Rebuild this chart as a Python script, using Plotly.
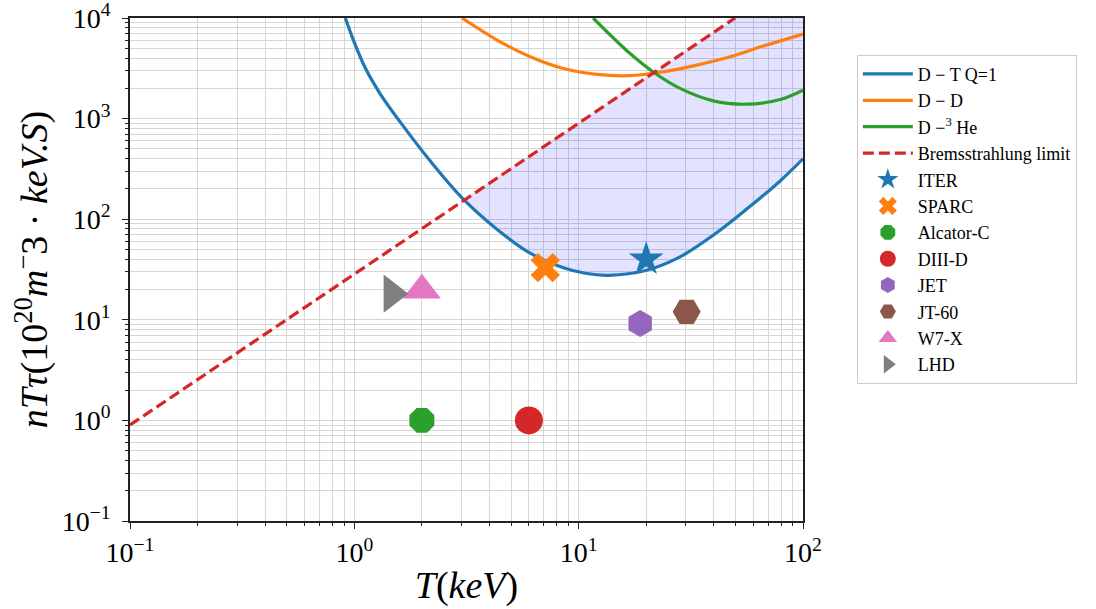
import plotly.graph_objects as go

# ---------------- data ----------------
DT_T = [0.912, 0.990, 1.119, 1.306, 1.603, 2.181, 3.069, 4.32, 6.08, 8.55, 10.69, 13.57,
        20.1, 28.3, 39.8, 56.1, 79.1, 100]
DT_Y = [10000, 6040, 3180, 1754, 922, 378, 157, 79.4, 45.9, 32.9, 29.0, 27.7,
        31.1, 42.2, 69.3, 126, 240, 398]

DD_T = [3.02, 4.33, 6.08, 8.55, 12.05, 16.9, 23.9, 33.6, 47.3, 66.6, 100]
DD_Y = [10000, 6040, 4120, 3150, 2750, 2670, 2920, 3400, 4120, 5260, 6930]

DHE_T = [11.6, 16.9, 21.9, 28.3, 39.8, 56.1, 79.1, 100]
DHE_Y = [10000, 4460, 2820, 1995, 1500, 1390, 1550, 1920]

BREMS_T = [0.1, 49.8]
BREMS_Y = [0.9, 10000]

# index of the D-T point where it meets the bremsstrahlung line
CROSS_IDX = 6

MACHINES = ["ITER", "SPARC", "Alcator-C", "DIII-D", "JET", "JT-60", "W7-X", "LHD"]
MACHINE_T = [20, 7.1, 2.0, 6.0, 18.8, 30.3, 2.0, 1.47]
MACHINE_Y = [40, 33, 1.0, 1.0, 9.2, 12, 19.7, 18.2]
MACHINE_SYMBOLS = ["star", "x", "octagon", "circle", "hexagon", "hexagon2", "triangle-up", "triangle-right"]
MACHINE_COLORS = ["#1f77b4", "#ff7f0e", "#2ca02c", "#d62728", "#9467bd", "#8c564b", "#e377c2", "#7f7f7f"]
MACHINE_SIZES = [26, 26, 27, 28, 27, 28, 33, 33]

X_RANGE = (0.1, 100)
Y_RANGE = (0.1, 10000)
X_TICKS = [0.1, 1, 10, 100]
X_TICK_LABELS = ["10<sup>−1</sup>", "10<sup>0</sup>", "10<sup>1</sup>", "10<sup>2</sup>"]
Y_TICKS = [0.1, 1, 10, 100, 1000, 10000]
Y_TICK_LABELS = ["10<sup>−1</sup>", "10<sup>0</sup>", "10<sup>1</sup>", "10<sup>2</sup>",
                 "10<sup>3</sup>", "10<sup>4</sup>"]

# ---------------- figure ----------------
FONT = "Liberation Serif"
SMOOTH = dict(shape="spline", smoothing=1.0)
fig = go.Figure()

# shaded region: above the D-T curve, below the bremsstrahlung limit (clipped at the top)
upper_x = [DT_T[CROSS_IDX], BREMS_T[-1], X_RANGE[1]]
upper_y = [DT_Y[CROSS_IDX], BREMS_Y[-1], Y_RANGE[1]]
fig.add_trace(go.Scatter(x=upper_x, y=upper_y, mode="lines", line=dict(width=0),
                         showlegend=False, hoverinfo="skip"))
fig.add_trace(go.Scatter(x=DT_T[CROSS_IDX:], y=DT_Y[CROSS_IDX:], mode="lines",
                         fill="tonexty", fillcolor="rgba(0,0,255,0.11)",
                         line=dict(width=0, **SMOOTH), showlegend=False, hoverinfo="skip"))

curves = [
    ("D − T Q=1", DT_T, DT_Y, "#1f77b4"),
    ("D − D", DD_T, DD_Y, "#ff7f0e"),
    ("D −<sup>3</sup> He", DHE_T, DHE_Y, "#2ca02c"),
]
for i, (name, xs, ys, col) in enumerate(curves):
    fig.add_trace(go.Scatter(x=xs, y=ys, mode="lines", name=name, legendgroup=f"g{i}",
                             line=dict(color=col, width=3.2, **SMOOTH)))

fig.add_trace(go.Scatter(x=BREMS_T, y=BREMS_Y, mode="lines", name="Bremsstrahlung limit",
                         legendgroup="g3",
                         line=dict(color="#d62728", width=3.2, dash="11px,5px")))

for i, (name, t, y, sym, col, sz) in enumerate(zip(MACHINES, MACHINE_T, MACHINE_Y,
                                                   MACHINE_SYMBOLS, MACHINE_COLORS, MACHINE_SIZES)):
    fig.add_trace(go.Scatter(x=[t], y=[y], mode="markers", name=name, legendgroup=f"m{i}",
                             marker=dict(symbol=sym, size=sz, color=col,
                                         line=dict(width=0))))

minor_vals = [m * 10 ** e for e in range(-1, 4) for m in range(2, 10)]

axis_common = dict(
    type="log",
    automargin=False,
    showline=True, linecolor="#222", linewidth=1.5, mirror=True,
    ticks="outside", ticklen=6, tickwidth=1, tickcolor="#222",
    showgrid=True, gridcolor="#d6d6d6", gridwidth=1,
    zeroline=False,
    tickfont=dict(family=FONT, size=28, color="black"),
    tickmode="array",
    ticklabeloverflow="allow",
    minor=dict(tickmode="array", tickvals=minor_vals, ticks="outside", ticklen=3.5,
               tickwidth=1, tickcolor="#222", showgrid=True, gridcolor="#d6d6d6", gridwidth=1),
)

fig.update_xaxes(**axis_common, range=[-1, 2], tickvals=X_TICKS, ticktext=X_TICK_LABELS,
                 title=dict(text="<i>T</i>(<i>keV</i>)", font=dict(family=FONT, size=38, color="black"),
                            standoff=4))
fig.update_yaxes(**axis_common, range=[-1, 4.000001], tickvals=Y_TICKS, ticktext=Y_TICK_LABELS,
                 ticklabelstandoff=6,
                 title=dict(text="<i>nTτ</i>(10<sup>20</sup><i>m</i><sup>−</sup>3 · <i>keV.S</i>)",
                            font=dict(family=FONT, size=38, color="black"), standoff=2))

fig.update_layout(
    width=1096, height=609,
    margin=dict(l=130, r=293, t=18, b=88, autoexpand=False),
    paper_bgcolor="white", plot_bgcolor="white",
    font=dict(family=FONT, color="black"),
    showlegend=True,
    legend=dict(x=1.08, y=0.927, xanchor="left", yanchor="top",
                font=dict(family=FONT, size=18, color="black"),
                bordercolor="#cccccc", borderwidth=1, bgcolor="white",
                tracegroupgap=0, itemsizing="trace", itemwidth=50),
)

fig.write_html("out.html")
